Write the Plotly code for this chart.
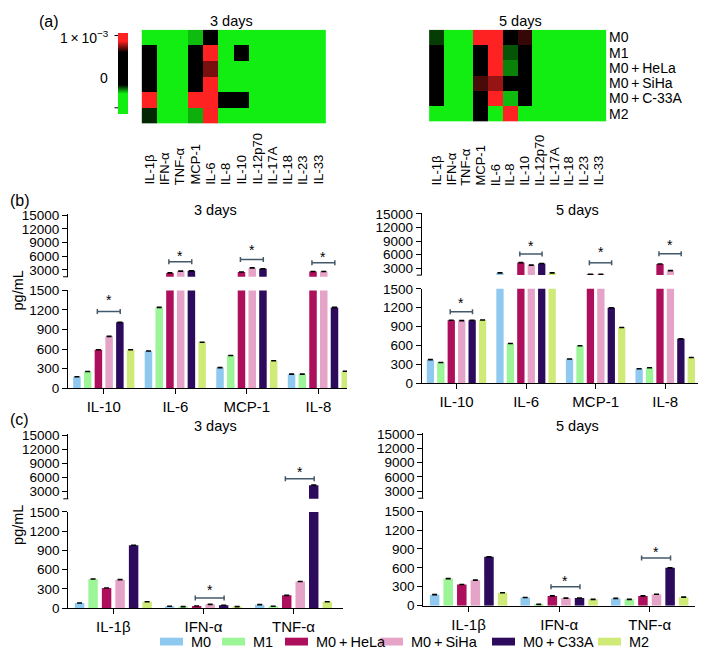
import plotly.graph_objects as go

W, H = 706, 662
OFF = 8                           # default body margin of the html page
WF, HF = W - 2 * OFF, H - 2 * OFF  # figure fits the window exactly
FONT = "Liberation Sans, Arial, Helvetica, sans-serif"

# ---------------- data ----------------
groups = ["M0", "M1", "M0 + HeLa", "M0 + SiHa", "M0 + C33A", "M2"]
bar_colors = ["#8fc9ef", "#9cf596", "#ad0f5d", "#e4a3c7", "#2c0b5c", "#d0ea78"]

heat_rows = ["M0", "M1", "M0 + HeLa", "M0 + SiHa", "M0 + C-33A", "M2"]
heat_cols = ["IL-1β", "IFN-α", "TNF-α", "MCP-1", "IL-6", "IL-8", "IL-10",
             "IL-12p70", "IL-17A", "IL-18", "IL-23", "IL-33"]

# heat-map values in units of 1e-3
heat_3d = [
    [-0.85, -0.85, -0.85, -0.33, 0.00, -0.85, -0.85, -0.85, -0.85, -0.85, -0.85, -0.85],
    [0.00, -0.85, -0.85, 0.00, 1.00, -0.80, 0.00, -0.85, -0.85, -0.85, -0.85, -0.85],
    [-0.10, -0.85, -0.85, -0.10, 0.72, -0.85, -0.80, -0.85, -0.85, -0.85, -0.85, -0.85],
    [0.00, -0.85, -0.85, 0.00, 1.00, -0.85, -0.45, -0.85, -0.85, -0.85, -0.85, -0.85],
    [1.00, -0.85, -0.85, 1.00, 1.00, 0.00, 0.00, -0.85, -0.85, -0.85, -0.85, -0.85],
    [-0.20, -0.85, -0.85, -0.32, 1.00, -0.85, -0.85, -0.85, -0.85, -0.85, -0.85, -0.85],
]
heat_5d = [
    [-0.22, -0.85, -0.85, 1.00, 1.00, 0.00, 0.65, -0.85, -0.85, -0.85, -0.85, -0.85],
    [0.00, -0.85, -0.85, 0.00, 1.00, -0.24, 0.00, -0.85, -0.85, -0.85, -0.85, -0.85],
    [0.00, -0.85, -0.85, 0.00, 1.00, -0.28, 0.00, -0.85, -0.85, -0.85, -0.85, -0.85],
    [0.00, -0.85, -0.85, 0.67, 0.75, -0.15, 0.00, -0.85, -0.85, -0.85, -0.85, -0.85],
    [0.00, -0.85, -0.85, 0.00, 1.00, -0.33, 0.00, -0.85, -0.85, -0.85, -0.85, -0.85],
    [-0.85, -0.85, -0.85, 0.00, -0.85, 1.00, -0.85, -0.85, -0.85, -0.85, -0.85, -0.85],
]
heat_zmin, heat_zmax = -0.85, 1.05

b_cats = ["IL-10", "IL-6", "MCP-1", "IL-8"]
c_cats = ["IL-1β", "IFN-α", "TNF-α"]

# rows follow `groups`, columns follow the category list (pg/mL)
b_3d = [
    [175, 570, 315, 215],
    [255, 1240, 500, 215],
    [590, 2350, 2550, 2650],
    [795, 2750, 3450, 2650],
    [1010, 2800, 3250, 1240],
    [590, 705, 420, 260],
]
b_5d = [
    [375, 2000, 385, 230],
    [330, 630, 595, 245],
    [1000, 4250, 1700, 3950],
    [995, 3700, 1700, 2500],
    [1000, 4050, 1200, 705],
    [1005, 2000, 885, 410],
]
c_3d = [
    [80, 30, 55],
    [455, 25, 30],
    [315, 35, 200],
    [445, 60, 415],
    [980, 45, 4400],
    [100, 25, 100],
]
c_5d = [
    [175, 130, 115],
    [430, 20, 100],
    [335, 155, 155],
    [405, 120, 180],
    [775, 120, 600],
    [205, 100, 135],
]

lower_ticks = [0, 300, 600, 900, 1200, 1500]
upper_ticks = [3000, 6000, 9000, 12000, 15000]
BREAK = 1500
UPPER_MAX = 15300

# significance brackets: (category index, segment, bracket value, star value)
b_3d_sig = [(0, "lo", 1175, 1395), (1, "up", 4780, 6710), (2, "up", 5290, 7930), (3, "up", 4560, 6580)]
b_5d_sig = [(0, "lo", 1137, 1318), (1, "up", 6160, 8530), (2, "up", 4220, 7320), (3, "up", 6240, 8900)]
c_3d_sig = [(1, "lo", 157, 335), (2, "up", 5780, 7940)]
c_5d_sig = [(1, "lo", 301, 445), (2, "lo", 755, 895)]


# ---------------- helpers (window pixels -> paper fractions) ----------------
def fx(px):
    return (px - OFF) / WF


def fy(py):
    return 1 - (py - OFF) / HF


fig = go.Figure()
annotations = []
shapes = []

colorscale = [
    [0.0, "#12ee12"], [0.25, "#12ee12"], [0.36, "#000000"],
    [0.76, "#000000"], [0.9, "#ff2222"], [1.0, "#ff2222"],
]

# ---------------- heatmaps ----------------
fig.add_trace(go.Heatmap(
    z=heat_3d, x=heat_cols, y=heat_rows, xaxis="x", yaxis="y",
    colorscale=colorscale, zmin=heat_zmin, zmax=heat_zmax, hoverinfo="skip",
    showscale=True,
    colorbar=dict(x=fx(118), xanchor="left", y=fy(67.5), yanchor="middle",
                  len=81, lenmode="pixels", thickness=10, thicknessmode="pixels",
                  xpad=0, ypad=0, outlinewidth=0, showticklabels=False, ticks=""),
))
fig.add_trace(go.Heatmap(
    z=heat_5d, x=heat_cols, y=heat_rows, xaxis="x2", yaxis="y2",
    colorscale=colorscale, zmin=heat_zmin, zmax=heat_zmax, hoverinfo="skip",
    showscale=False,
))

hidden = dict(showgrid=False, zeroline=False, showline=False, ticks="", showticklabels=False)
layout_axes = {}
layout_axes["xaxis"] = dict(domain=[fx(140), fx(328)], anchor="y", **hidden)
layout_axes["yaxis"] = dict(domain=[fy(119), fy(23)], anchor="x", autorange="reversed", **hidden)
layout_axes["xaxis2"] = dict(domain=[fx(427), fx(608)], anchor="y2", **hidden)
layout_axes["yaxis2"] = dict(domain=[fy(117), fy(23)], anchor="x2", autorange="reversed",
                             side="right", showgrid=False, zeroline=False, showline=False,
                             ticks="", showticklabels=True,
                             tickvals=heat_rows,
                             ticktext=[r.replace(" + ", "\u2009+\u2009") for r in heat_rows],
                             tickfont=dict(size=14, color="black", family=FONT))

for xa, lab_y in (("x", 184), ("x2", 185)):
    for c in heat_cols:
        annotations.append(dict(text=c, xref=xa, x=c, yref="paper", y=fy(lab_y),
                                textangle=-90, xanchor="center", yanchor="bottom",
                                showarrow=False, font=dict(size=13, color="black")))

# colour-bar labels
annotations.append(dict(text="1\u2009×\u200910<sup>−3</sup>", xref="paper", yref="paper",
                        x=fx(111), y=fy(31), xanchor="right", yanchor="middle",
                        showarrow=False, font=dict(size=14, color="black")))
annotations.append(dict(text="0", xref="paper", yref="paper", x=fx(110), y=fy(72),
                        xanchor="right", yanchor="middle", showarrow=False,
                        font=dict(size=14, color="black")))
for ty in (29, 103):
    shapes.append(dict(type="line", xref="paper", yref="paper", x0=fx(114.5), x1=fx(118),
                       y0=fy(ty), y1=fy(ty), line=dict(color="black", width=1)))

# ---------------- bar panels ----------------
panels = [
    dict(cats=b_cats, vals=b_3d, sig=b_3d_sig, xa="x3", lo="y3", up="y4",
         x0=68, x1=347, xmax=3.4, lo0=390, lo1=290, up0=276, up15=213,
         title="3 days", tx=215, ty=208, ylabel_y=290),
    dict(cats=b_cats, vals=b_5d, sig=b_5d_sig, xa="x4", lo="y5", up="y6",
         x0=421.7, x1=700, xmax=3.5, lo0=385, lo1=288.3, up0=274.3, up15=211.7,
         title="5 days", tx=577, ty=208, ylabel_y=None),
    dict(cats=c_cats, vals=c_3d, sig=c_3d_sig, xa="x5", lo="y7", up="y8",
         x0=68.3, x1=343, xmax=2.55, lo0=615.3, lo1=516.7, up0=503.3, up15=438.3,
         title="3 days", tx=215, ty=429, ylabel_y=530),
    dict(cats=c_cats, vals=c_5d, sig=c_5d_sig, xa="x6", lo="y9", up="y10",
         x0=423.3, x1=695, xmax=2.5, lo0=612.7, lo1=516, up0=502.7, up15=437,
         title="5 days", tx=577, ty=429, ylabel_y=None),
]

tickfont = dict(size=13.5, color="black", family=FONT)
axis_common = dict(showgrid=False, zeroline=False, showline=True, linecolor="black",
                   linewidth=1, ticks="outside", ticklen=5, tickcolor="black", tickwidth=1)

BRACKET_COLOR = "#43596a"
RIGHT_LIMIT = OFF + WF
for p in panels:
    up_top = p["up0"] - (UPPER_MAX - BREAK) / (15000 - BREAK) * (p["up0"] - p["up15"])
    x1c = min(p["x1"], RIGHT_LIMIT)
    xmax_c = -0.5 + (p["xmax"] + 0.5) * (x1c - p["x0"]) / (p["x1"] - p["x0"])
    layout_axes["xaxis" + p["xa"][1:]] = dict(
        domain=[fx(p["x0"]), fx(x1c)], anchor=p["lo"], type="category",
        range=[-0.5, xmax_c], tickfont=dict(size=15, color="black", family=FONT),
        **axis_common)
    layout_axes["yaxis" + p["lo"][1:]] = dict(
        domain=[fy(p["lo0"]), fy(p["lo1"])], anchor=p["xa"], range=[0, BREAK],
        tickvals=lower_ticks, ticktext=[str(t) for t in lower_ticks], tickfont=tickfont,
        **axis_common)
    layout_axes["yaxis" + p["up"][1:]] = dict(
        domain=[fy(p["up0"]), fy(up_top)], anchor=p["xa"], range=[BREAK, UPPER_MAX],
        tickvals=upper_ticks, ticktext=[str(t) for t in upper_ticks],
        tickfont=tickfont, **axis_common)
    # small tick that closes the upper segment at the axis break
    shapes.append(dict(type="line", xref="paper", yref="paper",
                       x0=fx(p["x0"] - 5), x1=fx(p["x0"]), y0=fy(p["up0"]), y1=fy(p["up0"]),
                       line=dict(color="black", width=1)))

    for gi, g in enumerate(groups):
        vals = p["vals"][gi]
        err = dict(type="constant", value=0, color="black", thickness=1.6, width=2.5)
        fig.add_trace(go.Bar(x=p["cats"], y=vals, name=g, xaxis=p["xa"], yaxis=p["lo"],
                             marker=dict(color=bar_colors[gi], line=dict(width=0)),
                             error_y=err, showlegend=False, hoverinfo="skip"))
        fig.add_trace(go.Bar(x=p["cats"], y=[v if v > BREAK else None for v in vals],
                             name=g, xaxis=p["xa"], yaxis=p["up"],
                             marker=dict(color=bar_colors[gi], line=dict(width=0)),
                             error_y=err, showlegend=False, hoverinfo="skip"))

    # significance brackets
    for ci, seg, yv, sv in p["sig"]:
        yref = p["lo"] if seg == "lo" else p["up"]
        xa0, xa1 = ci - 0.09, ci + 0.23
        shapes.append(dict(type="line", xref=p["xa"], yref=yref, x0=xa0, x1=xa1,
                           y0=yv, y1=yv, line=dict(color=BRACKET_COLOR, width=1.5)))
        for xe in (xa0, xa1):
            shapes.append(dict(type="line", xref=p["xa"], yref=yref, x0=xe, x1=xe,
                               ysizemode="pixel", yanchor=yv, y0=-2.5, y1=2.5,
                               line=dict(color=BRACKET_COLOR, width=1.5)))
        annotations.append(dict(text="*", xref=p["xa"], yref=yref, x=ci + 0.07, y=sv,
                                yshift=-3, showarrow=False, xanchor="center", yanchor="middle",
                                font=dict(size=14, color="black")))

    annotations.append(dict(text=p["title"], xref="paper", yref="paper", x=fx(p["tx"]),
                            y=fy(p["ty"]), xanchor="center", yanchor="middle",
                            showarrow=False, font=dict(size=14.5, color="black")))
    if p["ylabel_y"] is not None:
        annotations.append(dict(text="pg/mL", xref="paper", yref="paper", x=0,
                                y=fy(p["ylabel_y"]), textangle=-90, xanchor="left",
                                yanchor="middle", showarrow=False,
                                font=dict(size=14.5, color="black")))

# heatmap titles and panel letters (glyph tops kept just inside the figure)
for txt, x, y, size in (("3 days", 232, 14, 14.5), ("5 days", 520, 14, 14.5),
                        ("(a)", 49, 15, 16)):
    annotations.append(dict(text=txt, xref="paper", yref="paper", x=fx(x), y=fy(y),
                            xanchor="center", yanchor="middle", showarrow=False,
                            font=dict(size=size, color="black")))
for txt, y in (("(b)", 198), ("(c)", 422)):
    annotations.append(dict(text=txt, xref="paper", yref="paper", x=0, y=fy(y),
                            xanchor="left", yanchor="middle", showarrow=False,
                            font=dict(size=16, color="black")))

# ---------------- legend (drawn) ----------------
legend_x = [160, 222, 285, 380, 492, 598]
for gi, g in enumerate(groups):
    x0 = legend_x[gi]
    shapes.append(dict(type="rect", xref="paper", yref="paper", x0=fx(x0), x1=fx(x0 + 23),
                       y0=fy(653.5), y1=fy(645.5), fillcolor=bar_colors[gi],
                       line=dict(width=0)))
    annotations.append(dict(text=g.replace(" + ", "\u2009+\u2009"), xref="paper", yref="paper",
                            x=fx(x0 + 29), y=fy(650), xanchor="left", yanchor="middle",
                            showarrow=False, font=dict(size=14.5, color="black")))

fig.update_layout(
    width=WF, height=HF, margin=dict(l=0, r=0, t=0, b=0),
    paper_bgcolor="white", plot_bgcolor="white",
    font=dict(family=FONT, color="black"),
    barmode="group", bargap=0.1, bargroupgap=0.3,
    showlegend=False, annotations=annotations, shapes=shapes,
    **layout_axes,
)

fig.write_html("out.html")
